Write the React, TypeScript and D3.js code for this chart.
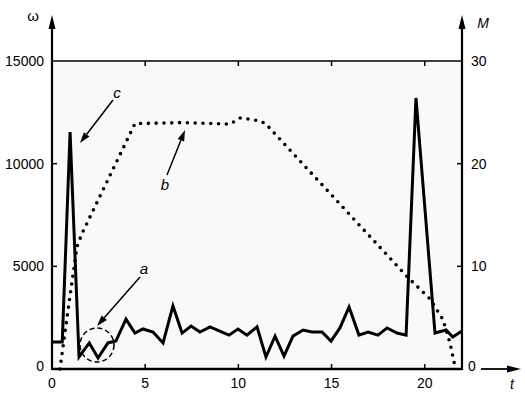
import React from 'react';
import { scaleLinear, line, curveLinear } from 'd3';

// speed ω (left axis)
const omegaT = [0, 0.55, 0.97, 1.45, 2.0, 2.47, 3.0, 3.43, 3.97, 4.45, 4.88, 5.42, 5.96, 6.49, 6.98, 7.46, 7.94, 8.48, 9.0, 9.5, 9.98, 10.46, 11.0, 11.48, 11.97, 12.45, 12.93, 13.47, 13.95, 14.49, 14.97, 15.45, 15.94, 16.47, 16.96, 17.49, 17.98, 18.51, 19.0, 19.53, 20.55, 21.15, 21.5, 22];
const omegaV = [1320, 1320, 11540, 585, 1270, 535, 1270, 1360, 2430, 1750, 1950, 1800, 1270, 3070, 1750, 2090, 1800, 2050, 1850, 1650, 1950, 1650, 2050, 585, 1600, 633, 1600, 1900, 1800, 1800, 1360, 2000, 3020, 1650, 1800, 1650, 2000, 1750, 1650, 13200, 1750, 1900, 1560, 1850];

// torque M (right axis)
const torqueT = [0.43, 0.86, 1.34, 1.61, 4.45, 7.0, 9.55, 10.09, 10.9, 11.43, 19.05, 20.3, 20.98, 21.36, 21.63];
const torqueV = [0, 5.75, 11.9, 13.2, 23.9, 24.0, 23.85, 24.45, 24.25, 23.95, 9.0, 6.8, 4.8, 2.5, 0.2];

const xTicks = [0, 5, 10, 15, 20];
const leftTicks = [0, 5000, 10000, 15000];
const rightTicks = [10, 20, 30];

const App = () => {
  const width = 525;
  const height = 399;
  const x = scaleLinear().domain([0, 22]).range([52, 462]);
  const yL = scaleLinear().domain([0, 15000]).range([369, 61]);
  const yR = scaleLinear().domain([0, 30]).range([369, 61]);
  const font = 'Arial, "Liberation Sans", sans-serif';

  const omegaLine = line<number>()
    .x((d, i) => x(omegaT[i]))
    .y((d) => yL(d))
    .curve(curveLinear);
  const torqueLine = line<number>()
    .x((d, i) => x(torqueT[i]))
    .y((d) => yR(d));

  const arrow = (x1: number, y1: number, x2: number, y2: number, len = 11, w = 3.5) => {
    const a = Math.atan2(y2 - y1, x2 - x1);
    const bx = x2 - len * Math.cos(a);
    const by = y2 - len * Math.sin(a);
    const px = -Math.sin(a) * w;
    const py = Math.cos(a) * w;
    return (
      <g>
        <line x1={x1} y1={y1} x2={bx} y2={by} stroke="#000" strokeWidth={1.5} />
        <path d={`M${x2},${y2}L${bx + px},${by + py}L${bx - px},${by - py}Z`} fill="#000" />
      </g>
    );
  };

  return (
    <svg width={width} height={height} style={{ position: 'absolute', left: 0, top: 0 }}>
      <rect x={0} y={0} width={width} height={height} fill="#fff" />
      <rect x={x(0)} y={yL(15000)} width={x(22) - x(0)} height={yL(0) - yL(15000)} fill="#f9f9f9" />

      {/* frame */}
      <line x1={x(0)} y1={yL(15000)} x2={x(22)} y2={yL(15000)} stroke="#000" strokeWidth={1.5} />
      <line x1={x(0)} y1={yL(0)} x2={x(22)} y2={yL(0)} stroke="#000" strokeWidth={2.5} />
      <line x1={x(0)} y1={yL(0) + 1} x2={x(0)} y2={25} stroke="#000" strokeWidth={2.2} />
      <line x1={x(22)} y1={yL(0) + 1} x2={x(22)} y2={25} stroke="#000" strokeWidth={2.2} />
      <path d={`M${x(0)},15L${x(0) - 3.5},29L${x(0) + 3.5},29Z`} fill="#000" />
      <path d={`M${x(22)},15L${x(22) - 3.5},29L${x(22) + 3.5},29Z`} fill="#000" />
      <line x1={481} y1={yL(0)} x2={510} y2={yL(0)} stroke="#000" strokeWidth={1.8} />
      <path d={`M521,${yL(0)}L507,${yL(0) - 3.5}L507,${yL(0) + 3.5}Z`} fill="#000" />

      {/* ticks */}
      {xTicks.slice(1).map((t) => (
        <g key={`xt${t}`}>
          <line x1={x(t)} y1={yL(0)} x2={x(t)} y2={yL(0) - 5} stroke="#000" strokeWidth={1.5} />
          <line x1={x(t)} y1={yL(15000)} x2={x(t)} y2={yL(15000) + 5} stroke="#000" strokeWidth={1.5} />
        </g>
      ))}
      {xTicks.map((t) => (
        <text key={`xl${t}`} x={x(t)} y={388} textAnchor="middle" fontFamily={font} fontSize={14}>
          {t}
        </text>
      ))}
      {leftTicks.map((t) => (
        <g key={`lt${t}`}>
          {t > 0 && t < 15000 && (
            <line x1={x(0)} y1={yL(t)} x2={x(0) + 5} y2={yL(t)} stroke="#000" strokeWidth={1.5} />
          )}
          <text x={44} y={yL(t) - (t === 0 ? 3 : 0)} dy="0.35em" textAnchor="end" fontFamily={font} fontSize={14}>
            {t}
          </text>
        </g>
      ))}
      {rightTicks.map((t) => (
        <g key={`rt${t}`}>
          {t < 30 && <line x1={x(22)} y1={yR(t)} x2={x(22) - 5} y2={yR(t)} stroke="#000" strokeWidth={1.5} />}
          <text x={471} y={yR(t)} dy="0.35em" fontFamily={font} fontSize={14}>
            {t}
          </text>
        </g>
      ))}
      <text x={468} y={yR(0) - 3} dy="0.35em" fontFamily={font} fontSize={14}>0</text>

      {/* axis titles */}
      <text x={33} y={16} dy="0.35em" textAnchor="middle" fontFamily={font} fontSize={15}>ω</text>
      <text x={483} y={23} dy="0.35em" textAnchor="middle" fontFamily={font} fontSize={14} fontStyle="italic">M</text>
      <text x={512} y={384} dy="0.35em" textAnchor="middle" fontFamily={font} fontSize={14} fontStyle="italic">t</text>

      {/* series */}
      <path d={torqueLine(torqueV) || ''} fill="none" stroke="#000" strokeWidth={3.6} strokeLinecap="round" strokeDasharray="0 7.8" />
      <path d={omegaLine(omegaV) || ''} fill="none" stroke="#000" strokeWidth={3} strokeLinejoin="miter" strokeMiterlimit={10} />

      {/* annotations */}
      <circle cx={97} cy={345} r={17} fill="none" stroke="#000" strokeWidth={1.5} strokeDasharray="5 3" />
      {arrow(140, 277, 97, 326)}
      {arrow(113, 100, 80, 143)}
      {arrow(167, 175, 185, 130)}
      <text x={144} y={269} dy="0.35em" textAnchor="middle" fontFamily={font} fontSize={15} fontStyle="italic">a</text>
      <text x={165} y={185} dy="0.35em" textAnchor="middle" fontFamily={font} fontSize={15} fontStyle="italic">b</text>
      <text x={117} y={93} dy="0.35em" textAnchor="middle" fontFamily={font} fontSize={15} fontStyle="italic">c</text>
    </svg>
  );
};

export default App;
